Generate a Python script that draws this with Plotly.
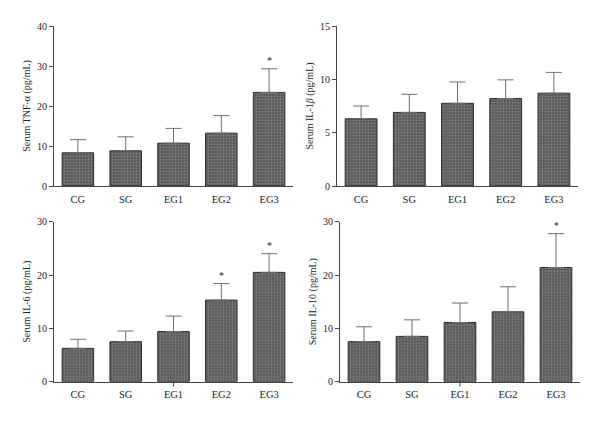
import plotly.graph_objects as go

categories = ["CG", "SG", "EG1", "EG2", "EG3"]

tnf = [8.3, 8.8, 10.7, 13.2, 23.4]
tnf_err = [3.3, 3.5, 3.7, 4.4, 5.9]
tnf_sig = ["", "", "", "", "*"]

il1b = [6.3, 6.9, 7.75, 8.2, 8.7]
il1b_err = [1.2, 1.7, 2.0, 1.75, 1.95]
il1b_sig = ["", "", "", "", ""]

il6 = [6.25, 7.5, 9.4, 15.3, 20.5]
il6_err = [1.7, 2.0, 2.9, 3.1, 3.5]
il6_sig = ["", "", "", "*", "*"]

il10 = [7.5, 8.5, 11.1, 13.1, 21.4]
il10_err = [2.8, 3.1, 3.65, 4.7, 6.35]
il10_sig = ["", "", "", "", "*"]

titles = ["Serum TNF-α (pg/mL)", "Serum IL-1<i>β</i> (pg/mL)",
          "Serum IL-6 (pg/mL)", "Serum IL-10 (pg/mL)"]
ranges = [(40, 10), (15, 5), (30, 10), (30, 10)]

W, H = 600, 421
panels = [
    (tnf, tnf_err, tnf_sig, (54, 293), (26, 186)),
    (il1b, il1b_err, il1b_sig, (337, 578), (26, 186)),
    (il6, il6_err, il6_sig, (54, 293), (221.7, 381.7)),
    (il10, il10_err, il10_sig, (340, 580), (221.7, 381.7)),
]

FONT = "Liberation Serif"
fig = go.Figure()
layout = dict(
    width=W, height=H, margin=dict(l=0, r=0, t=0, b=0, autoexpand=False),
    paper_bgcolor="white", plot_bgcolor="white", showlegend=False,
    font=dict(family=FONT, size=10, color="#222"),
)
annotations = []
shapes = []
for i, (vals, errs, sig, (x0, x1), (y0, y1)) in enumerate(panels):
    n = i + 1
    xa = "x" if n == 1 else f"x{n}"
    ya = "y" if n == 1 else f"y{n}"
    fig.add_trace(go.Bar(
        x=categories, y=vals, xaxis=xa, yaxis=ya, width=0.66,
        marker=dict(color="#5b5b5b", line=dict(color="#2e2e2e", width=1),
                    pattern=dict(shape=".", fgcolor="#a8a8a8", bgcolor="#5b5b5b",
                                 size=3, solidity=0.3)),
        error_y=dict(type="data", symmetric=False, array=errs,
                     arrayminus=[0] * len(errs), color="#6e6e6e",
                     thickness=1, width=8),
    ))
    for c, v, e, s in zip(categories, vals, errs, sig):
        if s:
            annotations.append(dict(x=c, y=v + e, xref=xa, yref=ya, text=s,
                                    showarrow=False, yanchor="bottom", yshift=1,
                                    font=dict(family=FONT, size=10, color="#222")))
    ymax, dt = ranges[i]
    layout[f"xaxis{'' if n == 1 else n}"] = dict(
        domain=[x0 / W, x1 / W], anchor=ya, range=[-0.5, 4.5], automargin=False,
        showline=True, linecolor="#444", linewidth=1, ticks="",
        ticklabelstandoff=3,
        showgrid=False, tickfont=dict(family=FONT, size=10.5, color="#222"),
    )
    layout[f"yaxis{'' if n == 1 else n}"] = dict(
        domain=[1 - y1 / H, 1 - y0 / H], anchor=xa, range=[0, ymax], dtick=dt,
        automargin=False,
        showline=True, linecolor="#444", linewidth=1, ticks="outside",
        ticklen=4, tickcolor="#444", showgrid=False, zeroline=False,
        tickfont=dict(family=FONT, size=10, color="#222"),
        title=dict(text=titles[i], font=dict(family=FONT, size=10, color="#222"),
                   standoff=4),
    )
    if n >= 3:
        shapes.append(dict(type="line", xref=xa, yref=f"{ya} domain",
                           x0="EG1", x1="EG1", y0=0, y1=-0.03,
                           line=dict(color="#444", width=1)))
layout["annotations"] = annotations
layout["shapes"] = shapes
fig.update_layout(**layout)
fig.write_html("out.html", config={"displayModeBar": False},
               post_script="document.body.style.margin='0';document.body.style.overflow='hidden';")
